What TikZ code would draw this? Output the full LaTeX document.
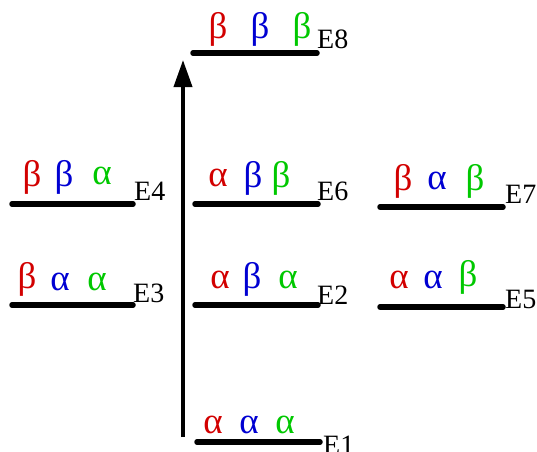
\documentclass[tikz,border=0pt]{standalone}
\usepackage{fontspec}
\setmainfont{Liberation Serif}
\usetikzlibrary{arrows.meta}
\definecolor{cr}{RGB}{210,0,0}
\definecolor{cb}{RGB}{0,0,210}
\definecolor{cg}{RGB}{0,200,0}
\tikzset{
  lvl/.style={line width=5.5pt, line cap=round},
  gk/.style={inner sep=0pt, anchor=base, font=\fontsize{37}{37}\selectfont},
  el/.style={inner sep=0pt, anchor=base west, font=\fontsize{28}{28}\selectfont},
  axis/.style={line width=3.8pt, -{Triangle[length=27pt,width=18pt]}}
}
\begin{document}
\begin{tikzpicture}[x=1pt,y=-1pt]
\useasboundingbox (0,0) rectangle (537,451);
% levels
\coordinate (e8a) at (193,53); \coordinate (e8b) at (317,53);
\coordinate (e4a) at (12,204); \coordinate (e4b) at (133,204);
\coordinate (e3a) at (12,305); \coordinate (e3b) at (133,305);
\coordinate (e6a) at (195,204); \coordinate (e6b) at (318,204);
\coordinate (e2a) at (195,305); \coordinate (e2b) at (318,305);
\coordinate (e7a) at (380,207); \coordinate (e7b) at (503,207);
\coordinate (e5a) at (380,307); \coordinate (e5b) at (503,307);
\coordinate (e1a) at (197,442); \coordinate (e1b) at (320,442);
\foreach \n in {e8,e4,e3,e6,e2,e7,e5,e1} \draw[lvl] (\n a) -- (\n b);
% axis
\coordinate (ax0) at (183,437); \coordinate (ax1) at (183,60);
\draw[axis] (ax0) -- (ax1);
% labels
\node[el] (l8) at (317,48) {E8};
\node[el] (l4) at (134,200) {E4};
\node[el] (l3) at (133,302) {E3};
\node[el] (l6) at (317,200) {E6};
\node[el] (l2) at (317,304) {E2};
\node[el] (l7) at (505,203) {E7};
\node[el] (l5) at (505,308) {E5};
\node[el] (l1) at (323,454) {E1};
% spins
\node[gk,cr] (s81) at (218,38) {β}; \node[gk,cb] (s82) at (260,38) {β}; \node[gk,cg] (s83) at (302,38) {β};
\node[gk,cr] (s41) at (32,186) {β}; \node[gk,cb] (s42) at (64,186) {β}; \node[gk,cg] (s43) at (102,184) {α};
\node[gk,cr] (s31) at (27,288) {β}; \node[gk,cb] (s32) at (60,290) {α}; \node[gk,cg] (s33) at (97,290) {α};
\node[gk,cr] (s61) at (218,186) {α}; \node[gk,cb] (s62) at (253,187) {β}; \node[gk,cg] (s63) at (281,187) {β};
\node[gk,cr] (s21) at (220,288) {α}; \node[gk,cb] (s22) at (252,288) {β}; \node[gk,cg] (s23) at (288,288) {α};
\node[gk,cr] (s71) at (403,190) {β}; \node[gk,cb] (s72) at (437,189) {α}; \node[gk,cg] (s73) at (475,190) {β};
\node[gk,cr] (s51) at (399,288) {α}; \node[gk,cb] (s52) at (433,288) {α}; \node[gk,cg] (s53) at (468,286) {β};
\node[gk,cr] (s11) at (213,433) {α}; \node[gk,cb] (s12) at (249,433) {α}; \node[gk,cg] (s13) at (285,433) {α};
\end{tikzpicture}
\end{document}
